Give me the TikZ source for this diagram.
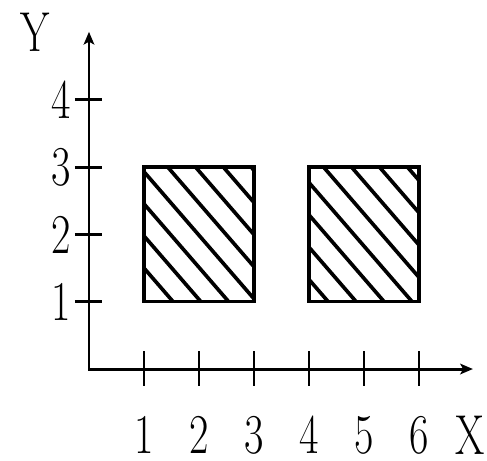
\documentclass[tikz,border=0pt]{standalone}
\usetikzlibrary{arrows.meta}

\newcommand{\narrow}[1]{\scalebox{0.75}[1]{#1}}

\begin{document}
\begin{tikzpicture}[
    x=1.375cm, y=1.6825cm,
    axis/.style={line width=2.1pt, {Stealth[length=9pt, width=7.5pt, inset=2pt]}-{Stealth[length=9pt, width=7.5pt, inset=2pt]}},
    tickmark/.style={line width=2pt},
    box/.style={line width=2.4pt},
    hatch/.style={line width=2.6pt},
    lbl/.style={font=\fontsize{40}{44}\selectfont, inner sep=0pt}
]
\useasboundingbox (-1.618,-1.352) rectangle (7.236,5.483);

% axes
\coordinate (origin) at (0,0);
\coordinate (xend) at (6.98,0);
\coordinate (yend) at (0,5.01);
\draw[axis] (yend) |- (xend);

% ticks
\foreach \i in {1,...,6}
    \draw[tickmark] (\i,-0.25) -- (\i,0.27);
\foreach \j in {1,...,4}
    \draw[tickmark] (-0.255,\j) -- (0.236,\j);

% labels
\node[lbl] (ylabel) at (-0.98,5.01) {\narrow{Y}};
\node[lbl] (xlabel) at (6.92,-0.98) {\narrow{X}};
\node[lbl] (x1) at (1,-0.98) {\narrow{1}};
\node[lbl] (x2) at (2,-0.98) {\narrow{2}};
\node[lbl] (x3) at (3,-0.98) {\narrow{3}};
\node[lbl] (x4) at (4,-0.98) {\narrow{4}};
\node[lbl] (x5) at (5,-0.98) {\narrow{5}};
\node[lbl] (x6) at (6,-0.98) {\narrow{6}};
\node[lbl] (y1) at (-0.51,1) {\narrow{1}};
\node[lbl] (y2) at (-0.51,2) {\narrow{2}};
\node[lbl] (y3) at (-0.51,3) {\narrow{3}};
\node[lbl] (y4) at (-0.51,4) {\narrow{4}};

% hatched boxes
\begin{scope}
    \clip (1,1) rectangle (3,3);
    \foreach \c in {0,...,7}
        \draw[hatch] (0.5,{1.5+0.477*\c+0.472}) -- (3.5,{1.5+0.477*\c-2.36});
\end{scope}
\begin{scope}
    \clip (4,1) rectangle (6,3);
    \foreach \c in {0,...,7}
        \draw[hatch] (3.5,{1.33+0.48*\c+0.472}) -- (6.5,{1.33+0.48*\c-2.36});
\end{scope}
\draw[box] (1,1) rectangle (3,3);
\draw[box] (4,1) rectangle (6,3);

\end{tikzpicture}
\end{document}
